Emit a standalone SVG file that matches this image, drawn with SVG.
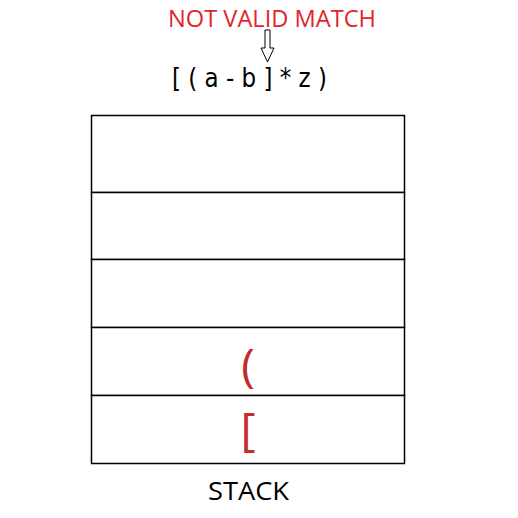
<svg xmlns="http://www.w3.org/2000/svg" width="518" height="518" viewBox="0 0 518 518">
<style>
.cell{fill:#fff;stroke:#000;stroke-width:1.5}
.red{fill:#c62a2f;font-family:"Open Sans","DejaVu Sans",sans-serif}
</style>
<rect width="518" height="518" fill="#fff"/>
<text x="168" y="27" textLength="208" lengthAdjust="spacingAndGlyphs" font-family="Open Sans, sans-serif" font-size="23" fill="#e0262a">NOT VALID MATCH</text>
<g id="connectors">
<path d="M265,30 H270 V48 H274 L267.5,62 L261,48 H265 Z" fill="#fff" stroke="#000" stroke-width="1"/>
</g>
<text x="172" y="87" textLength="155" lengthAdjust="spacingAndGlyphs" font-family="DejaVu Sans, sans-serif" font-size="26" fill="#000">[ ( a - b ] * z )</text>
<g id="stack">
<rect id="c1" class="cell" x="91.5" y="115.5" width="313" height="77"/>
<rect id="c2" class="cell" x="91.5" y="192.5" width="313" height="67"/>
<rect id="c3" class="cell" x="91.5" y="259.5" width="313" height="68"/>
<g id="c4"><rect class="cell" x="91.5" y="327.5" width="313" height="68"/>
<text class="red" x="248" y="382" text-anchor="middle" font-size="46">(</text></g>
<g id="c5"><rect class="cell" x="91.5" y="395.5" width="313" height="68"/>
<text class="red" x="248" y="446" text-anchor="middle" font-size="46">[</text></g>
</g>
<text x="208" y="500" textLength="81" lengthAdjust="spacingAndGlyphs" font-family="Open Sans, sans-serif" font-size="25" fill="#000">STACK</text>
</svg>
